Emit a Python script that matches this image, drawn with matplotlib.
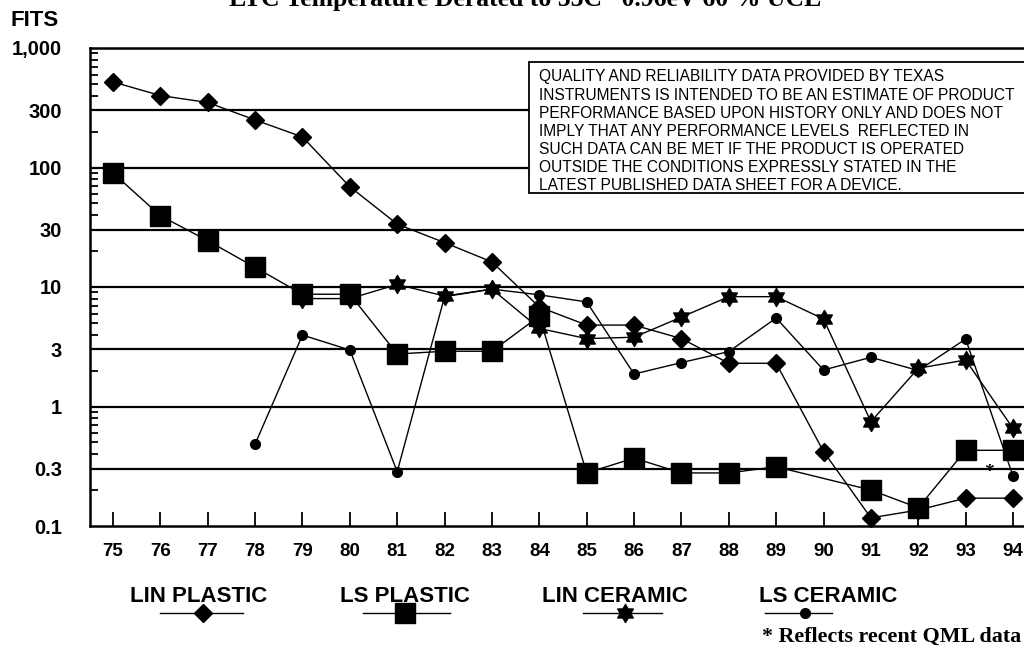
import numpy as np
import matplotlib
matplotlib.use("Agg")
import matplotlib.pyplot as plt
from matplotlib.lines import Line2D
from matplotlib.patches import Rectangle
from matplotlib.path import Path
from matplotlib.ticker import FixedLocator, LogLocator, NullFormatter, NullLocator

# ---------------- data ----------------
years = list(range(75, 95))
year_labels = [str(y) for y in years]

lin_plastic = [520, 400, 350, 250, 180, 69, 33.6, 23.5, 16.2, 6.8,
               4.8, 4.8, 3.7, 2.3, 2.3, 0.42, 0.117, 0.136, 0.171, 0.171]
ls_plastic = [90, 39.5, 24.4, 14.6, 8.7, 8.7, 2.75, 2.9, 2.9, 5.7,
              0.278, 0.37, 0.278, 0.278, 0.313, None, 0.2, 0.142, 0.43, 0.43]
lin_ceramic = [None, None, None, None, 8.0, 8.0, 10.5, 8.4, 9.6, 4.5,
               3.7, 3.8, 5.6, 8.3, 8.3, 5.4, 0.746, 2.09, 2.45, 0.656]
ls_ceramic = [None, None, None, 0.485, 3.96, 2.97, 0.285, 8.3, 9.6, 8.6,
              7.5, 1.87, 2.33, 2.88, 5.5, 2.02, 2.58, 2.0, 3.67, 0.262]

series_names = ["LIN PLASTIC", "LS PLASTIC", "LIN CERAMIC", "LS CERAMIC"]

y_ticks = [0.1, 0.3, 1, 3, 10, 30, 100, 300, 1000]
y_tick_labels = ["0.1", "0.3", "1", "3", "10", "30", "100", "300", "1,000"]

qml_note_year = 93.49
qml_note_value = 0.283

disclaimer_lines = [
    "QUALITY AND RELIABILITY DATA PROVIDED BY TEXAS",
    "INSTRUMENTS IS INTENDED TO BE AN ESTIMATE OF PRODUCT",
    "PERFORMANCE BASED UPON HISTORY ONLY AND DOES NOT",
    "IMPLY THAT ANY PERFORMANCE LEVELS  REFLECTED IN",
    "SUCH DATA CAN BE MET IF THE PRODUCT IS OPERATED",
    "OUTSIDE THE CONDITIONS EXPRESSLY STATED IN THE",
    "LATEST PUBLISHED DATA SHEET FOR A DEVICE.",
]
title_text = "LTC Temperature Derated to 55C   0.96eV 60 % UCL"
ylabel_text = "FITS"
note_text = "* Reflects recent QML data"

# ---------------- styles ----------------
SANS = ["Liberation Sans", "DejaVu Sans"]
SERIF = ["Liberation Serif", "DejaVu Serif"]

# six-pointed star marker
ang_out = np.deg2rad(90 + 60 * np.arange(6))
ang_in = ang_out + np.deg2rad(30)
r_in = 0.58
verts = []
for ao, ai in zip(ang_out, ang_in):
    verts.append((np.cos(ao), np.sin(ao)))
    verts.append((r_in * np.cos(ai), r_in * np.sin(ai)))
verts.append(verts[0])
star_path = Path(verts, [Path.MOVETO] + [Path.LINETO] * 11 + [Path.CLOSEPOLY])

styles = [
    dict(marker="D", markersize=9.5),
    dict(marker="s", markersize=14),
    dict(marker=star_path, markersize=13),
    dict(marker="o", markersize=7),
]

W, H = 1024, 655
fig = plt.figure(figsize=(W / 100, H / 100), dpi=100)
fig.patch.set_facecolor("white")

x_left_px, x_right_px = 90, 1030
y_top_px, y_bot_px = 48, 526
px_per_year = (1013 - 113) / 19.0
ax = fig.add_axes([x_left_px / W, 1 - y_bot_px / H,
                   (x_right_px - x_left_px) / W, (y_bot_px - y_top_px) / H])
ax.set_xlim(75 - (113 - x_left_px) / px_per_year, 75 + (x_right_px - 113) / px_per_year)
ax.set_yscale("log")
ax.set_ylim(0.1, 1000)

# grid lines at labelled values
for v in y_ticks[1:-1]:
    ax.axhline(v, color="black", lw=1.6, zorder=1)

ax.yaxis.set_major_locator(FixedLocator(y_ticks))
ax.set_yticklabels(y_tick_labels, fontfamily=SANS, fontweight="bold", fontsize=14.5)
ax.yaxis.set_minor_locator(LogLocator(base=10, subs=[2, 4, 5, 6, 7, 8, 9], numticks=20))
ax.yaxis.set_minor_formatter(NullFormatter())
ax.tick_params(axis="y", which="major", length=0, pad=20)
ax.tick_params(axis="y", which="minor", direction="in", length=6, width=1.3, color="black")

ax.set_xticks(years)
ax.set_xticklabels(year_labels, fontfamily=SANS, fontweight="bold", fontsize=13.5)
ax.xaxis.set_minor_locator(NullLocator())
ax.tick_params(axis="x", which="major", direction="in", length=10, width=1.3, pad=12)

for s in ("left", "bottom", "top"):
    ax.spines[s].set_linewidth(1.8)
ax.spines["right"].set_visible(False)

x = np.array(years, dtype=float)
for data, st in zip([lin_plastic, ls_plastic, lin_ceramic, ls_ceramic], styles):
    y = np.array([np.nan if v is None else v for v in data], dtype=float)
    m = ~np.isnan(y)
    ax.plot(x[m], y[m], color="black", lw=1.0, markerfacecolor="black",
            markeredgecolor="black", zorder=3, clip_on=False, **st)

ax.text(qml_note_year, qml_note_value, "*", ha="center", va="center",
        fontsize=14, fontfamily=SERIF, fontweight="bold", zorder=4)

# disclaimer box
box = Rectangle((529 / W, 1 - 193 / H), (1100 - 529) / W, (193 - 62) / H,
                transform=fig.transFigure, facecolor="white", edgecolor="black",
                lw=1.3, zorder=5)
fig.add_artist(box)
line_y = [77, 95, 113, 131, 149, 167, 185]
for txt, yy in zip(disclaimer_lines, line_y):
    fig.text(539 / W, 1 - yy / H, txt, ha="left", va="center", fontsize=11.2,
             fontfamily=SANS, zorder=6)

# texts
fig.text(10 / W, 1 - 20 / H, ylabel_text, ha="left", va="center", fontsize=16,
         fontfamily=SANS, fontweight="bold")
fig.text(525 / W, 1 - 6 / H, title_text, ha="center", va="baseline", fontsize=18.5,
         fontfamily=SERIF, fontweight="bold")
fig.text(762 / W, 1 - 637 / H, note_text, ha="left", va="center", fontsize=15.8,
         fontfamily=SERIF, fontweight="bold")

# legend
leg_text_x = [199, 405, 615, 828]
leg_line = [(160, 243, 203), (363, 450, 405), (583, 662, 625), (765, 832, 805)]
leg_text_y = 597
leg_line_y = 613
for name, tx, (x0, x1, xm), st in zip(series_names, leg_text_x, leg_line, styles):
    fig.text(tx / W, 1 - leg_text_y / H, name, ha="center", va="center", fontsize=16,
             fontfamily=SANS, fontweight="bold")
    fig.add_artist(Line2D([x0 / W, x1 / W], [1 - leg_line_y / H] * 2,
                          transform=fig.transFigure, color="black", lw=1.0))
    fig.add_artist(Line2D([xm / W], [1 - leg_line_y / H], transform=fig.transFigure,
                          color="black", markerfacecolor="black", lw=0, **st))

fig.savefig("out.png", dpi=100)
